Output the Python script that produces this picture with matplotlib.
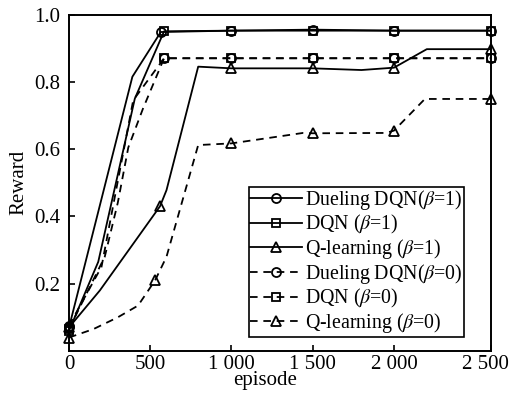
import numpy as np
import matplotlib
matplotlib.use("Agg")
import matplotlib.pyplot as plt
import matplotlib.transforms as mtransforms

plt.rcParams["font.family"] = ["Liberation Serif", "DejaVu Serif"]
plt.rcParams["mathtext.fontset"] = "stix"
plt.rcParams["font.size"] = 14

# Reward per training episode
ep_duel1 = [0, 390, 565, 1000, 1500, 2000, 2500]
r_duel1 = [0.07, 0.815, 0.948, 0.952, 0.955, 0.952, 0.952]
mk_duel1 = [0, 2, 3, 4, 5, 6]

ep_dqn1 = [0, 180, 405, 585, 1000, 1500, 2000, 2500]
r_dqn1 = [0.06, 0.265, 0.75, 0.95, 0.952, 0.952, 0.952, 0.952]
mk_dqn1 = [0, 3, 4, 5, 6, 7]

ep_q1 = [0, 190, 560, 600, 795, 1000, 1500, 1800, 2000, 2170, 2500]
r_q1 = [0.07, 0.18, 0.43, 0.478, 0.845, 0.84, 0.84, 0.835, 0.842, 0.897, 0.897]
mk_q1 = [0, 2, 5, 6, 8, 10]

ep_duel0 = [0, 200, 395, 585, 1000, 1500, 2000, 2500]
r_duel0 = [0.075, 0.25, 0.745, 0.87, 0.87, 0.87, 0.87, 0.87]
mk_duel0 = [0, 3, 4, 5, 6, 7]

ep_dqn0 = [0, 220, 300, 365, 455, 585, 1000, 1500, 2000, 2500]
r_dqn0 = [0.065, 0.28, 0.44, 0.605, 0.72, 0.87, 0.87, 0.87, 0.87, 0.87]
mk_dqn0 = [0, 5, 6, 7, 8, 9]

ep_q0 = [0, 150, 300, 425, 530, 600, 795, 1000, 1440, 1500, 1950, 2000, 2160, 2500]
r_q0 = [0.04, 0.065, 0.1, 0.135, 0.21, 0.28, 0.612, 0.617, 0.648, 0.647, 0.648, 0.655, 0.749, 0.749]
mk_q0 = [0, 4, 7, 9, 11, 13]

labels = [
    r"Dueling DQN($\beta$=1)",
    r"DQN ($\beta$=1)",
    r"Q-learning ($\beta$=1)",
    r"Dueling DQN($\beta$=0)",
    r"DQN ($\beta$=0)",
    r"Q-learning ($\beta$=0)",
]
x_ticks = [0, 500, 1000, 1500, 2000, 2500]
x_ticklabels = ["0", "500", "1 000", "1 500", "2 000", "2 500"]
y_ticks = [0.2, 0.4, 0.6, 0.8, 1.0]
y_ticklabels = ["0.2", "0.4", "0.6", "0.8", "1.0"]

# The last axis segment (2000-2500) is drawn slightly wider
K = 1.188


def fwd(x):
    x = np.asarray(x, dtype=float)
    return np.where(x <= 2000, x, 2000 + (x - 2000) * K)


def inv(x):
    x = np.asarray(x, dtype=float)
    return np.where(x <= 2000, x, 2000 + (x - 2000) / K)


fig = plt.figure(figsize=(5.10, 3.93), dpi=100)
ax = fig.add_axes([0.1353, 0.1069, 0.9618 - 0.1353, 0.9631 - 0.1069])
ax.set_xscale("function", functions=(fwd, inv))

dash = (4.2, 3.2)
series = [
    (ep_duel1, r_duel1, mk_duel1, "o", "-", 6.5),
    (ep_dqn1, r_dqn1, mk_dqn1, "s", "-", 6.0),
    (ep_q1, r_q1, mk_q1, "^", "-", 7.5),
    (ep_duel0, r_duel0, mk_duel0, "o", "--", 6.5),
    (ep_dqn0, r_dqn0, mk_dqn0, "s", "--", 6.0),
    (ep_q0, r_q0, mk_q0, "^", "--", 7.5),
]
for (xs, ys, mk, m, ls, ms), lab in zip(series, labels):
    kw = dict(color="black", lw=1.3, marker=m, markersize=ms,
              markerfacecolor="none", markeredgewidth=1.3,
              markevery=mk, label=lab, clip_on=False)
    if ls == "--":
        ax.plot(xs, ys, linestyle=(0, dash), **kw)
    else:
        ax.plot(xs, ys, linestyle="-", **kw)

ax.set_xlim(0, 2500)
ax.set_ylim(0, 1.0)
ax.set_xticks(x_ticks)
ax.set_xticklabels(x_ticklabels)
ax.set_yticks(y_ticks)
ax.set_yticklabels(y_ticklabels)
ax.xaxis.set_minor_locator(matplotlib.ticker.NullLocator())
ax.tick_params(axis="both", direction="in", length=4, width=1.2, labelsize=15)
ax.tick_params(axis="x", pad=3)
ax.tick_params(axis="y", pad=6)
for s in ax.spines.values():
    s.set_linewidth(1.4)

# keep the last tick label inside the canvas
last = ax.get_xticklabels()[-1]
last.set_transform(last.get_transform()
                   + mtransforms.ScaledTranslation(-4 / 72, 0, fig.dpi_scale_trans))

ax.set_xlabel("episode", fontsize=15)
ax.set_ylabel("Reward", fontsize=15)
ax.xaxis.set_label_coords(0.465, -0.058)
ax.yaxis.set_label_coords(-0.097, 0.5)

leg = ax.legend(loc="lower right", bbox_to_anchor=(0.937, 0.042),
                frameon=True, fancybox=False, edgecolor="black",
                framealpha=1, fontsize=14.3, handlelength=2.6,
                handletextpad=0.15, labelspacing=0.05,
                borderpad=0.08, borderaxespad=0)
leg.get_frame().set_linewidth(1.2)

fig.savefig("out.png", dpi=100)
